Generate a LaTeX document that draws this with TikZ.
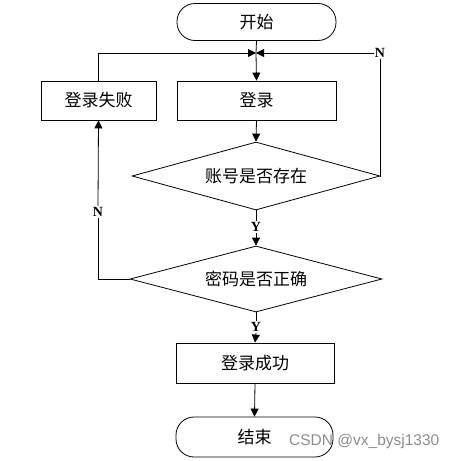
\documentclass[tikz,border=0pt]{standalone}
\usepackage{fontspec}
\setmainfont{Liberation Serif}
\newfontfamily\cjk{Noto Sans CJK SC}
\newfontfamily\wmfont{Liberation Sans}
\usetikzlibrary{shapes.geometric,arrows.meta}
\begin{document}
\begin{tikzpicture}[x=1pt,y=-1pt,
  every node/.style={font=\cjk\fontsize{17}{18}\selectfont, inner sep=0pt},
  boxs/.style={draw, line width=0.8pt, minimum height=39pt},
  term/.style={draw, line width=0.8pt, rounded corners=18pt, minimum height=37pt},
  dia/.style={draw, line width=0.8pt, diamond, aspect=3.65},
  yn/.style={font=\bfseries\fontsize{14}{14}\selectfont, inner sep=1pt},
  ln/.style={line width=0.8pt},
  arr/.style={line width=0.8pt, -{Triangle[length=8pt,width=8pt]}}]
\useasboundingbox (0,0) rectangle (459,461);
\node[term, minimum width=159pt] (start) at (256.5,22) {开始};
\coordinate (J) at (256,53);
\node[boxs, minimum width=115pt] (fail) at (98.5,100.5) {登录失败};
\node[boxs, minimum width=159pt] (login) at (256.5,100.5) {登录};
\node[dia, minimum width=248pt, minimum height=68pt] (d1) at (256,176) {账号是否存在};
\node[dia, minimum width=252pt, minimum height=66pt] (d2) at (256,279) {密码是否正确};
\node[boxs, minimum width=158pt, minimum height=40pt] (succ) at (255,363) {登录成功};
\node[term, minimum width=157pt, minimum height=40pt] (end) at (254.5,437) {结束};
\node[yn] (Nr) at (380,53) {N};
\node[yn] (Nl) at (98,212) {N};
\node[yn] (Y1) at (256,227) {Y};
\node[yn] (Y2) at (256,327) {Y};
\node[font=\wmfont\fontsize{15.5}{16}\selectfont, text=black!45, anchor=west] (wm) at (289,441) {CSDN @vx\_bysj1330};
\draw[ln] (start.south) -- (J);
\draw[arr] (fail.north) |- (J);
\draw[ln] (d1.east) -| (Nr.south);
\draw[arr] (Nr.west) -- (J);
\draw[arr] (J) -- (login.north);
\draw[arr] (login.south) -- (d1.north);
\draw[ln] (d1.south) -- (Y1.north);
\draw[arr] (Y1.south) -- (d2.north);
\draw[ln] (d2.west) -| (Nl.south);
\draw[arr] (Nl.north) -- (fail.south);
\draw[ln] (d2.south) -- (Y2.north);
\draw[arr] (Y2.south) -- (succ.north);
\draw[arr] (succ.south) -- (end.north);
\end{tikzpicture}
\end{document}
